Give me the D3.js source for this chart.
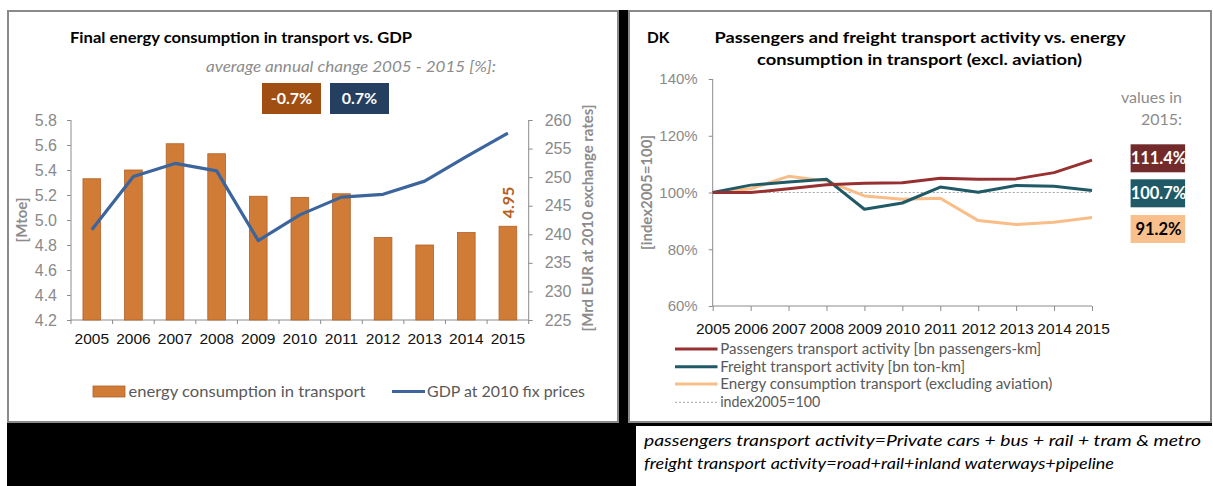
<!DOCTYPE html>
<html>
  <head>
    <meta charset="utf-8">
    <title>DK transport energy vs GDP</title>
    <script src="https://d3js.org/d3.v7.min.js"></script>
    <style media="screen">
      body { margin: 0; background: #fff; }
      svg { display: block; font-family: Lato, "Open Sans", sans-serif; }
      .tick text { fill: #8a8a8a; }
      .axis path, .axis line { stroke: #8c8c8c; }
      .xlab .tick text { fill: #111; }
    </style>
  </head>
  <body>
    <script type="text/javascript">

    // left chart data
    const years = ["2005","2006","2007","2008","2009","2010","2011","2012","2013","2014","2015"];
    const energyMtoe = [5.33, 5.40, 5.61, 5.53, 5.19, 5.18, 5.21, 4.86, 4.80, 4.90, 4.95];
    const gdpBn = [240.8, 250.1, 252.4, 251.1, 238.9, 243.4, 246.5, 247.0, 249.3, 253.6, 257.7];
    const leftTicks = [4.2, 4.4, 4.6, 4.8, 5.0, 5.2, 5.4, 5.6, 5.8];
    const rightTicks = [225, 230, 235, 240, 245, 250, 255, 260];
    const avgChange = ["-0.7%", "0.7%"];

    // right chart data (index 2005 = 100)
    const passengers = [100, 100.0, 101.3, 102.7, 103.3, 103.4, 105.0, 104.7, 104.8, 107.0, 111.4];
    const freight = [100, 102.6, 103.7, 104.7, 94.1, 96.3, 101.9, 100.1, 102.5, 102.2, 100.7];
    const energyIdx = [100, 101.3, 105.7, 104.1, 98.8, 97.6, 98.0, 90.1, 88.7, 89.5, 91.2];
    const idxTicks = [60, 80, 100, 120, 140];
    const values2015 = ["111.4%", "100.7%", "91.2%"];

    var svg = d3.select('body').append('svg')
      .attr('width', 1213)
      .attr('height', 486);

    // frame
    svg.append('rect').attr('x', 7).attr('y', 10).attr('width', 1205).attr('height', 476).attr('fill', '#000');
    svg.append('rect').attr('x', 8).attr('y', 11).attr('width', 610).attr('height', 411)
      .attr('fill', '#fff').attr('stroke', '#8a8a8a').attr('stroke-width', 2);
    svg.append('rect').attr('x', 629).attr('y', 11).attr('width', 582).attr('height', 411)
      .attr('fill', '#fff').attr('stroke', '#8a8a8a').attr('stroke-width', 2);
    svg.append('rect').attr('x', 636).attr('y', 426).attr('width', 577).attr('height', 60).attr('fill', '#fff');

    // ---------- left chart ----------
    var left = svg.append('g');

    var x = d3.scaleBand().domain(years).range([71, 528.7]).paddingInner(0.575).paddingOuter(0.2875);
    var yL = d3.scaleLinear().domain([4.2, 5.8]).range([320, 120]);
    var yR = d3.scaleLinear().domain([225, 260]).range([320, 120]);

    left.append('text').attr('x', 70).attr('y', 43)
      .attr('font-size', 15).attr('font-weight', 'bold').attr('fill', '#000')
      .attr('textLength', 342).attr('lengthAdjust', 'spacingAndGlyphs')
      .text('Final energy consumption in transport vs. GDP');

    left.append('text').attr('x', 206).attr('y', 72)
      .attr('font-size', 15).attr('font-style', 'italic').attr('fill', '#8c8c8c')
      .attr('textLength', 290).attr('lengthAdjust', 'spacingAndGlyphs')
      .text('average annual change 2005 - 2015 [%]:');

    var boxCol = ['#a14e13', '#253f60'];
    avgChange.forEach((t, i) => {
      let bx = 262 + i * 68;
      left.append('rect').attr('x', bx).attr('y', 83).attr('width', 59).attr('height', 31).attr('fill', boxCol[i]);
      left.append('text').attr('x', bx + 29.5).attr('y', 104).attr('text-anchor', 'middle')
        .attr('font-size', 16).attr('font-weight', 'bold').attr('fill', '#fff').text(t);
    });

    left.append('g').attr('class', 'axis')
      .attr('transform', 'translate(71,0)')
      .call(d3.axisLeft(yL).tickValues(leftTicks).tickFormat(d3.format('.1f')).tickSize(4).tickPadding(10))
      .call(g => g.selectAll('text').attr('font-size', 16))
      .call(g => g.select('.domain').attr('d', 'M0,120V320'));

    left.append('g').attr('class', 'axis')
      .attr('transform', 'translate(528.7,0)')
      .call(d3.axisRight(yR).tickValues(rightTicks).tickSize(4).tickPadding(12))
      .call(g => g.selectAll('text').attr('font-size', 16))
      .call(g => g.select('.domain').attr('d', 'M0,120V320'));

    // x axis with ticks on category boundaries
    var xAxis = left.append('g').attr('class', 'axis xlab').attr('transform', 'translate(0,320)')
      .call(d3.axisBottom(x).tickSize(0).tickPadding(13))
      .call(g => g.select('.domain').attr('d', 'M71,0H528.7'));
    xAxis.selectAll('text').attr('font-size', 15.5);
    var step = x.step();
    xAxis.selectAll('.bound').data(years.concat(['end'])).enter().append('line')
      .attr('x1', (d, i) => 71 + i * step).attr('x2', (d, i) => 71 + i * step)
      .attr('y1', 0).attr('y2', 4).attr('stroke', '#8c8c8c');

    left.selectAll('.bar').data(energyMtoe).enter().append('rect')
      .attr('class', 'bar')
      .attr('x', (d, i) => x(years[i]))
      .attr('y', d => yL(d))
      .attr('width', x.bandwidth())
      .attr('height', d => 320 - yL(d))
      .attr('fill', '#d07c36').attr('stroke', '#b2622a').attr('stroke-width', 0.8);

    var gdpLine = d3.line().x((d, i) => x(years[i]) + x.bandwidth() / 2).y(d => yR(d));
    left.append('path').datum(gdpBn).attr('d', gdpLine)
      .attr('fill', 'none').attr('stroke', '#3b659c').attr('stroke-width', 3.2).attr('stroke-linejoin', 'round');

    // 2015 bar label
    let lx = x('2015') + x.bandwidth() / 2 + 6;
    left.append('text').attr('transform', 'translate(' + lx + ',' + (yL(4.95) - 8) + ') rotate(-90)')
      .attr('font-size', 16).attr('font-weight', 'bold').attr('fill', '#b4601c')
      .text('4.95');

    left.append('text').attr('transform', 'translate(27,220) rotate(-90)').attr('text-anchor', 'middle')
      .attr('font-size', 15).attr('font-weight', 'bold').attr('fill', '#8c8c8c').text('[Mtoe]');
    left.append('text').attr('transform', 'translate(593,218) rotate(-90)').attr('text-anchor', 'middle')
      .attr('font-size', 15).attr('font-weight', 'bold').attr('fill', '#8c8c8c')
      .attr('textLength', 227).attr('lengthAdjust', 'spacingAndGlyphs')
      .text('[Mrd EUR at 2010 exchange rates]');

    // left legend
    left.append('rect').attr('x', 93).attr('y', 386).attr('width', 32).attr('height', 11)
      .attr('fill', '#d07c36').attr('stroke', '#b2622a').attr('stroke-width', 0.8);
    left.append('text').attr('x', 128.5).attr('y', 397).attr('font-size', 16).attr('fill', '#595959')
      .attr('textLength', 237).attr('lengthAdjust', 'spacingAndGlyphs').text('energy consumption in transport');
    left.append('line').attr('x1', 392).attr('x2', 425).attr('y1', 391.5).attr('y2', 391.5)
      .attr('stroke', '#3b659c').attr('stroke-width', 3.2);
    left.append('text').attr('x', 427).attr('y', 397).attr('font-size', 16).attr('fill', '#595959')
      .attr('textLength', 158).attr('lengthAdjust', 'spacingAndGlyphs').text('GDP at 2010 fix prices');

    // ---------- right chart ----------
    var right = svg.append('g');
    var xp = d3.scalePoint().domain(years).range([712.7, 1092]);
    var yp = d3.scaleLinear().domain([60, 140]).range([306, 79]);

    right.append('text').attr('x', 647).attr('y', 43).attr('font-size', 15.5).attr('font-weight', 'bold').text('DK');
    right.append('text').attr('x', 714.5).attr('y', 43).attr('font-size', 15.5).attr('font-weight', 'bold')
      .attr('textLength', 411).attr('lengthAdjust', 'spacingAndGlyphs')
      .text('Passengers and freight transport activity vs. energy');
    right.append('text').attr('x', 757).attr('y', 65).attr('font-size', 15.5).attr('font-weight', 'bold')
      .attr('textLength', 325).attr('lengthAdjust', 'spacingAndGlyphs')
      .text('consumption  in transport (excl. aviation)');

    right.append('g').attr('class', 'axis').attr('transform', 'translate(712.7,0)')
      .call(d3.axisLeft(yp).tickValues(idxTicks).tickFormat(d => d + '%').tickSize(4).tickPadding(11))
      .call(g => g.selectAll('text').attr('font-size', 15))
      .call(g => g.select('.domain').attr('d', 'M0,79V306'));

    var xAxR = right.append('g').attr('class', 'axis xlab').attr('transform', 'translate(0,306)')
      .call(d3.axisBottom(xp).tickSize(5).tickPadding(12))
      .call(g => g.select('.domain').attr('d', 'M712.7,0H1092'));
    xAxR.selectAll('text').attr('font-size', 15.5);

    right.append('line').attr('x1', xp('2005')).attr('x2', xp('2015'))
      .attr('y1', yp(100)).attr('y2', yp(100))
      .attr('stroke', '#a6a6a6').attr('stroke-width', 1).attr('stroke-dasharray', '2,2');

    var series = [
      {name: 'Passengers transport activity [bn passengers-km]', vals: passengers, color: '#973030', w: 321},
      {name: 'Freight transport activity [bn ton-km]', vals: freight, color: '#1f5a66', w: 245},
      {name: 'Energy consumption transport (excluding aviation)', vals: energyIdx, color: '#f9bd88', w: 332}
    ];
    var idxLine = d3.line().x((d, i) => xp(years[i])).y(d => yp(d));
    // energy first so it sits under the others
    [2, 1, 0].forEach(k => {
      right.append('path').datum(series[k].vals).attr('d', idxLine)
        .attr('fill', 'none').attr('stroke', series[k].color).attr('stroke-width', 3).attr('stroke-linejoin', 'round');
    });

    right.append('text').attr('x', 1182).attr('y', 103).attr('text-anchor', 'end')
      .attr('font-size', 16).attr('fill', '#8c8c8c').text('values in');
    right.append('text').attr('x', 1182).attr('y', 125).attr('text-anchor', 'end')
      .attr('font-size', 16).attr('fill', '#8c8c8c').text('2015:');

    var valBox = [{y: 144.3, fill: '#722a2a', txt: '#fff'}, {y: 179.3, fill: '#1f5a66', txt: '#fff'}, {y: 215, fill: '#f9c08e', txt: '#000'}];
    values2015.forEach((v, i) => {
      right.append('rect').attr('x', 1130.6).attr('y', valBox[i].y).attr('width', 54.5).attr('height', 28)
        .attr('fill', valBox[i].fill);
      right.append('text').attr('x', 1158.5).attr('y', valBox[i].y + 20).attr('text-anchor', 'middle')
        .attr('font-size', 16.5).attr('font-weight', 'bold').attr('fill', valBox[i].txt).text(v);
    });

    right.append('text').attr('transform', 'translate(652,192.5) rotate(-90)').attr('text-anchor', 'middle')
      .attr('font-size', 15).attr('font-weight', 'bold').attr('fill', '#8c8c8c')
      .attr('textLength', 115).attr('lengthAdjust', 'spacingAndGlyphs').text('[index2005=100]');

    // right legend
    var legY = [354, 371.7, 389, 407.3];
    series.forEach((s, i) => {
      right.append('line').attr('x1', 675).attr('x2', 717.5).attr('y1', legY[i] - 5).attr('y2', legY[i] - 5)
        .attr('stroke', s.color).attr('stroke-width', 3);
      right.append('text').attr('x', 720.2).attr('y', legY[i]).attr('font-size', 15.5).attr('fill', '#595959')
        .attr('textLength', s.w).attr('lengthAdjust', 'spacingAndGlyphs').text(s.name);
    });
    right.append('line').attr('x1', 675).attr('x2', 717.5).attr('y1', legY[3] - 5).attr('y2', legY[3] - 5)
      .attr('stroke', '#a6a6a6').attr('stroke-width', 1).attr('stroke-dasharray', '2,2');
    right.append('text').attr('x', 720.2).attr('y', legY[3]).attr('font-size', 15.5).attr('fill', '#595959')
      .attr('textLength', 100).attr('lengthAdjust', 'spacingAndGlyphs').text('index2005=100');

    // notes
    svg.append('text').attr('x', 644).attr('y', 446).attr('font-size', 16).attr('font-style', 'italic')
      .attr('textLength', 557).attr('lengthAdjust', 'spacingAndGlyphs')
      .text('passengers transport activity=Private cars + bus + rail + tram & metro');
    svg.append('text').attr('x', 644).attr('y', 469).attr('font-size', 16).attr('font-style', 'italic')
      .attr('textLength', 470).attr('lengthAdjust', 'spacingAndGlyphs')
      .text('freight transport activity=road+rail+inland waterways+pipeline');

    </script>
  </body>
</html>
